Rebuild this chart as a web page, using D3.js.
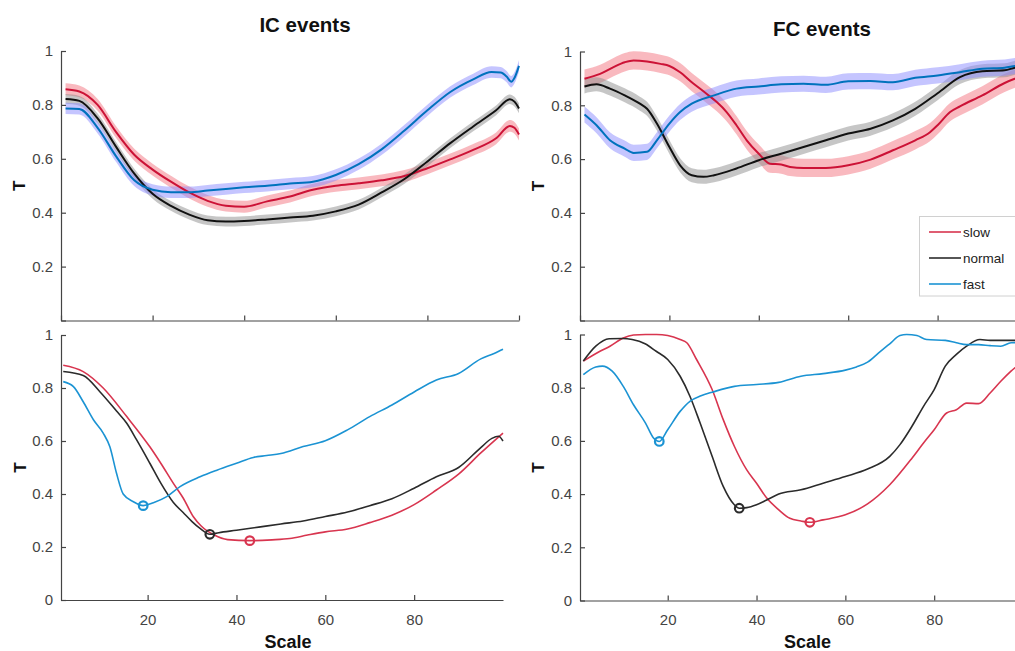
<!DOCTYPE html>
<html>
<head>
<meta charset="utf-8">
<script src="https://cdn.jsdelivr.net/npm/d3@7/dist/d3.min.js"></script>
<style>
body { margin: 0; background: #fff; }
svg  { display: block; font-family: "Liberation Sans", Arial, sans-serif; }
</style>
</head>
<body>
<script>
// ************************************************************************************
// DATA  ([scale, T] pairs)
// ************************************************************************************
var names  = ["slow", "normal", "fast"]

// IC events, mean curves (top left)
var icSlow   = [[1,.858],[4,.85],[8,.80],[12,.70],[16,.615],[20,.56],[24,.515],[28,.475],[32,.444],[36,.426],[40,.422],[45,.442],[50,.46],[55,.485],[60,.50],[65,.509],[70,.52],[75,.536],[80,.565],[85,.598],[90,.633],[95,.676],[98,.722],[99,.715],[100,.69]]
var icNormal = [[1,.822],[4,.815],[8,.75],[12,.645],[16,.545],[20,.47],[24,.425],[28,.393],[32,.372],[36,.367],[40,.369],[45,.375],[50,.382],[55,.389],[60,.405],[65,.43],[70,.475],[75,.525],[80,.59],[85,.658],[90,.72],[95,.78],[98,.821],[99,.812],[100,.787]]
var icFast   = [[1,.787],[4,.785],[8,.715],[12,.61],[16,.52],[20,.485],[24,.476],[28,.476],[32,.482],[36,.488],[40,.494],[45,.50],[50,.508],[55,.515],[60,.54],[65,.58],[70,.635],[75,.705],[80,.78],[85,.848],[90,.895],[94,.922],[96,.92],[97.3,.905],[98.3,.886],[99,.9],[100,.945]]

// FC events, mean curves (top right)
var fcSlow   = [[1,.899],[4.5,.917],[7.5,.942],[10,.96],[12,.967],[15,.963],[18,.954],[20,.946],[22.4,.923],[25,.886],[28.3,.843],[30.6,.812],[32.8,.775],[35,.726],[37.3,.67],[40,.62],[42.5,.583],[45,.58],[47,.571],[50,.567],[55,.567],[60,.577],[65,.598],[70,.633],[75,.67],[78.3,.70],[80,.726],[82.8,.775],[85,.796],[90,.837],[95,.883],[100,.915]]
var fcNormal = [[1,.87],[3.7,.878],[6.7,.862],[10,.837],[13.4,.806],[15,.787],[17.2,.732],[20,.645],[22.4,.577],[25,.54],[27.6,.534],[30,.54],[35,.565],[40,.596],[45,.62],[50,.645],[55,.67],[60,.695],[65,.713],[70,.744],[75,.787],[80,.845],[85,.905],[90,.927],[95,.93],[97.3,.94],[100,.945]]
var fcFast   = [[1,.766],[3.7,.726],[6.7,.67],[10,.639],[12,.623],[15,.627],[17.2,.67],[20,.732],[22.4,.775],[25,.806],[30,.837],[35,.862],[40,.87],[45,.878],[50,.88],[55,.876],[60,.889],[65,.89],[70,.886],[75,.902],[80,.911],[85,.923],[90,.936],[95,.94],[97.3,.946],[100,.95]]

// band half widths for slow / normal / fast
var icBand = [0.022, 0.018, 0.021]
var fcBand = [0.034, 0.026, 0.03]

// IC events, single curves (bottom left)
var icSlowB   = [[1,.886],[5.5,.862],[10,.80],[15.3,.692],[20.5,.578],[23,.515],[25.8,.44],[28,.385],[30.3,.314],[32,.28],[35,.245],[38,.228],[43,.224],[48,.227],[52,.232],[56,.245],[60,.257],[65,.268],[70,.292],[75,.32],[80,.36],[85,.415],[90,.475],[95,.555],[100,.63]]
var icNormalB = [[1,.862],[5.5,.847],[9.3,.785],[13,.713],[15.3,.667],[17.5,.605],[20.5,.516],[23,.44],[25.8,.368],[28,.33],[30,.296],[31.8,.27],[34,.248],[36,.254],[40,.263],[45,.275],[50,.287],[55,.298],[60,.315],[65,.332],[70,.356],[75,.382],[80,.422],[85,.465],[90,.50],[95,.575],[97.5,.61],[99,.618],[100,.60]]
var icFastB   = [[1,.824],[3.3,.805],[5.5,.748],[7.8,.68],[10,.63],[11.5,.578],[13,.478],[14.5,.40],[16.8,.371],[19,.356],[21.3,.367],[24.3,.39],[27.3,.428],[31.8,.465],[35.6,.49],[40,.516],[43.8,.538],[46.8,.545],[50,.553],[55,.579],[60,.601],[65,.642],[70,.692],[75,.736],[80,.785],[85,.83],[90,.855],[95,.91],[98,.93],[100,.946]]

// FC events, single curves (bottom right)
var fcSlowB   = [[1,.90],[4.75,.937],[7,.956],[10,.987],[12.3,.998],[15,1.0],[17.5,1.0],[20,.996],[22.8,.981],[24.3,.969],[26.5,.906],[30,.793],[32.5,.68],[35,.58],[37.8,.491],[40,.441],[42.3,.385],[45,.341],[47.5,.309],[50,.299],[52,.294],[55,.303],[60,.322],[65,.363],[70,.435],[75,.535],[77.6,.592],[80,.642],[82.8,.705],[85,.717],[87.3,.742],[90,.74],[92.6,.78],[95,.824],[97.3,.862],[100,.9]]
var fcNormalB = [[1,.90],[3.8,.956],[6.8,.984],[9.8,.985],[12,.981],[14.9,.965],[17.4,.937],[20,.906],[22.8,.843],[25,.768],[27.3,.667],[30,.542],[32.5,.429],[35,.36],[36.1,.347],[37.8,.349],[40,.36],[42.3,.378],[45,.40],[50,.416],[55,.441],[60,.466],[65,.494],[70,.542],[72.3,.586],[75,.655],[77.6,.73],[80,.793],[82.5,.881],[85,.925],[87.3,.956],[90.3,.981],[92.6,.978],[100,.978]]
var fcFastB   = [[1,.849],[3.8,.878],[5.3,.881],[7.5,.862],[10,.805],[12.3,.736],[15,.667],[16.8,.611],[18.1,.598],[20,.642],[22.8,.711],[25,.749],[27.5,.77],[30,.783],[35,.805],[40,.812],[45,.82],[50,.843],[55,.853],[60,.866],[62.5,.878],[65,.896],[67.5,.931],[70,.965],[72.3,.996],[73.8,1.0],[76.1,.996],[78.3,.981],[82.5,.978],[85,.969],[87.3,.962],[90,.962],[92.6,.958],[95,.956],[97.3,.969],[100,.97]]

var yTicks    = [0, 0.2, 0.4, 0.6, 0.8, 1]
var xTicksTop = [0, 20, 40, 60, 80, 100]
var xTicksBot = [20, 40, 60, 80]

// ************************************************************************************
// STYLE
// ************************************************************************************
var topColor  = ["#cc1236", "#111111", "#0072bd"]
var botColor  = ["#d8354f", "#2b2b2b", "#1b93d3"]
var bandColor = ["#f37380", "#8d8d8d", "#8b8bff"]
var axisColor = "#444"

var svg = d3.select("body").append("svg:svg")
			.attr("width", 1015)
			.attr("height", 651)

// ************************************************************************************
// PANEL
// ************************************************************************************
function panel (o) {
	var x = d3.scaleLinear().domain(o.domain).range([o.left, o.right])
	var y = d3.scaleLinear().domain([0, 1]).range([o.bottom, o.top])
	var g = svg.append("g")

	var curve = d3.curveMonotoneX
	var line  = d3.line().curve(curve).x(function(d){ return x(d[0]) }).y(function(d){ return y(d[1]) })

	if (o.band) {
		o.series.forEach(function(s, i){
			var w = o.band[i]
			var area = d3.area().curve(curve)
						.x(function(d){ return x(d[0]) })
						.y0(function(d){ return y(d[1] - w) })
						.y1(function(d){ return y(d[1] + w) })
			g.append("path").attr("d", area(s))
				.attr("fill", bandColor[i]).attr("fill-opacity", 0.5)
		})
	}

	o.series.forEach(function(s, i){
		g.append("path").attr("d", line(s))
			.attr("fill", "none")
			.attr("stroke", o.colors[i])
			.attr("stroke-width", o.lw)
			.attr("stroke-linejoin", "round")
	})

	// minimum of each curve gets an open circle
	if (o.minima) {
		o.series.forEach(function(s, i){
			var m = d3.least(s, function(d){ return d[1] })
			g.append("circle")
				.attr("cx", x(m[0])).attr("cy", y(m[1])).attr("r", 4.3)
				.attr("fill", "none").attr("stroke", o.colors[i]).attr("stroke-width", 2.2)
		})
	}

	var xa = d3.axisBottom(x).tickValues(o.xTicks).tickSizeInner(-5).tickSizeOuter(0).tickPadding(14)
	if (!o.xLabels) xa.tickFormat("")
	var ya = d3.axisLeft(y).tickValues(yTicks).tickSizeInner(-5).tickSizeOuter(0).tickPadding(8)
		.tickFormat(function(d){ return (d === 0 && !o.zeroLabel) ? "" : String(d) })

	var gx = g.append("g").attr("transform", "translate(0," + o.bottom + ")").call(xa)
	var gy = g.append("g").attr("transform", "translate(" + o.left + ",0)").call(ya)
	;[gx, gy].forEach(function(a){
		a.select(".domain").attr("stroke", axisColor).attr("stroke-width", 1.2)
		a.selectAll(".tick line").attr("stroke", axisColor).attr("stroke-width", 1.2)
		a.selectAll("text").attr("fill", "#444").style("font-size", "15px")
			.style("font-family", '"Liberation Sans", Arial, sans-serif')
	})

	g.append("text")
		.attr("transform", "translate(" + o.yLabelX + "," + ((o.top + o.bottom) / 2) + ") rotate(-90)")
		.attr("text-anchor", "middle").attr("dy", "0.35em")
		.style("font-size", "17px").style("font-weight", "bold").attr("fill", "#111")
		.text("T")

	if (o.title) {
		g.append("text").attr("x", o.titleX).attr("y", o.titleY)
			.attr("text-anchor", "middle")
			.style("font-size", "20.5px").style("font-weight", "bold").attr("fill", "#111")
			.text(o.title)
	}
	if (o.xLabels) {
		g.append("text").attr("x", (o.left + o.right) / 2 + 6).attr("y", 648)
			.attr("text-anchor", "middle")
			.style("font-size", "18px").style("font-weight", "bold").attr("fill", "#111")
			.text("Scale")
	}
	return g
}

// ************************************************************************************
// MAIN SCRIPT
// ************************************************************************************
panel({ left: 61, right: 519, top: 51, bottom: 320.5, domain: [0, 100],
	series: [icSlow, icNormal, icFast], band: icBand, lw: 2, colors: topColor,
	xTicks: xTicksTop, xLabels: false, yLabelX: 19, title: "IC events", titleX: 305, titleY: 32 })

panel({ left: 580, right: 1027, top: 51.5, bottom: 320.5, domain: [0, 100],
	series: [fcSlow, fcNormal, fcFast], band: fcBand, lw: 2, colors: topColor,
	xTicks: xTicksTop, xLabels: false, yLabelX: 538, title: "FC events", titleX: 822, titleY: 36 })

panel({ left: 61, right: 503, top: 335, bottom: 600, domain: [0.5, 100],
	series: [icSlowB, icNormalB, icFastB], lw: 1.6, colors: botColor, minima: true, zeroLabel: true,
	xTicks: xTicksBot, xLabels: true, yLabelX: 20 })

panel({ left: 580, right: 1023, top: 334.5, bottom: 600.5, domain: [0.25, 100],
	series: [fcSlowB, fcNormalB, fcFastB], lw: 1.6, colors: botColor, minima: true, zeroLabel: true,
	xTicks: xTicksBot, xLabels: true, yLabelX: 538 })

// legend
var lg = svg.append("g")
lg.append("rect").attr("x", 919.5).attr("y", 216.5).attr("width", 130).attr("height", 79.5)
	.attr("fill", "#fff").attr("stroke", "#d0d0d0")
names.forEach(function(n, i){
	var yy = [232, 258, 284][i]
	lg.append("line").attr("x1", 929).attr("x2", 961).attr("y1", yy).attr("y2", yy)
		.attr("stroke", botColor[i]).attr("stroke-width", 1.6)
	lg.append("text").attr("x", 963).attr("y", yy).attr("dy", "0.35em")
		.style("font-size", "13.5px").attr("fill", "#222").text(n)
})
</script>
</body>
</html>
